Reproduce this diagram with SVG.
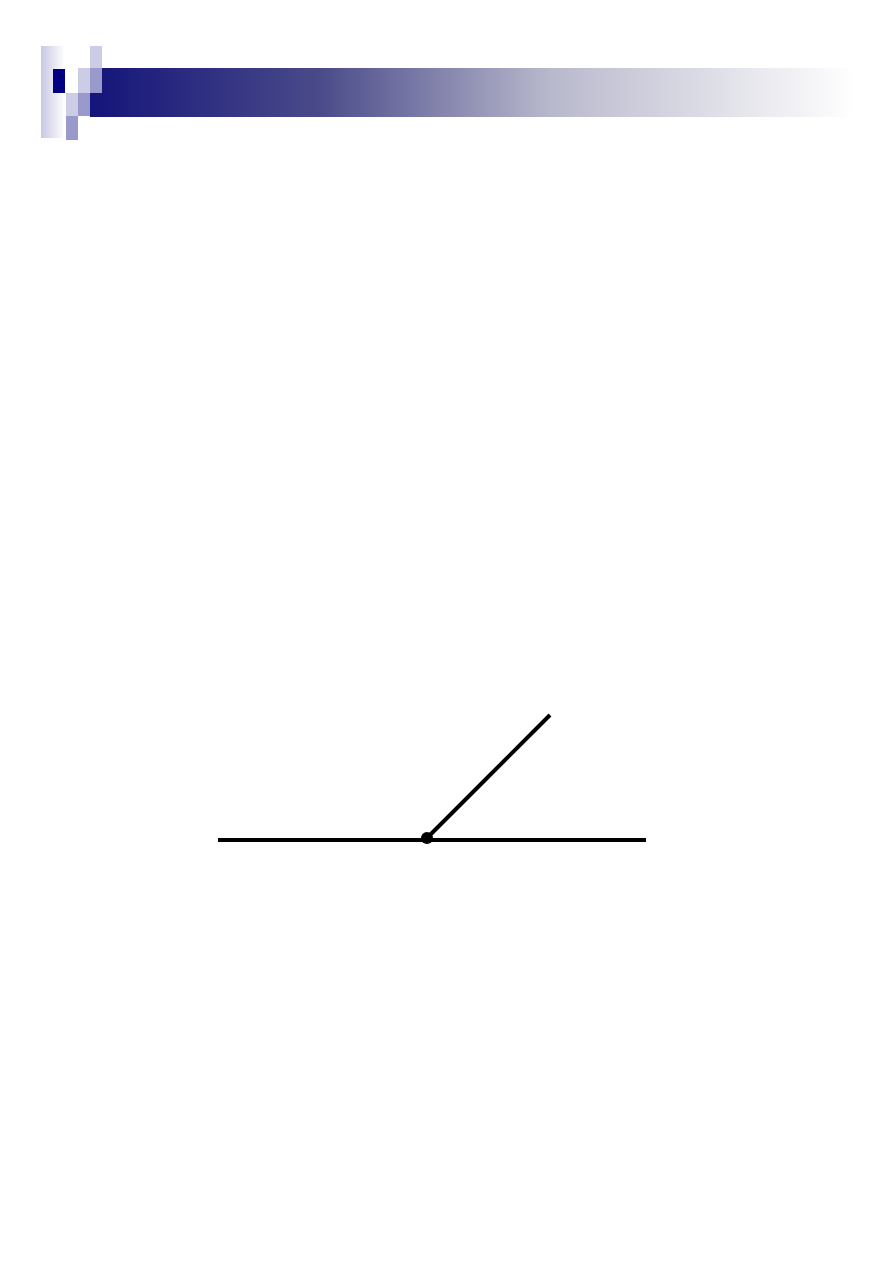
<svg xmlns="http://www.w3.org/2000/svg" width="893" height="1263" viewBox="0 0 893 1263">
<defs>
<linearGradient id="banner" x1="0" y1="0" x2="1" y2="0">
<stop offset="0" stop-color="#14147a"/>
<stop offset="0.3" stop-color="#4a4a8a"/>
<stop offset="0.6" stop-color="#b8b8cc"/>
<stop offset="1" stop-color="#ffffff"/>
</linearGradient>
<linearGradient id="side" x1="0" y1="0" x2="1" y2="0">
<stop offset="0" stop-color="#c8c8e2"/>
<stop offset="1" stop-color="#ffffff"/>
</linearGradient>
<style>
.light{fill:#ccccE6}
.mid{fill:#9999cc}
.ln{stroke:#000;stroke-width:4;fill:none}
</style>
</defs>
<rect width="893" height="1263" fill="#fff"/>
<g id="header">
<rect x="90" y="68" width="765" height="49" fill="url(#banner)"/>
<rect x="41" y="46" width="24" height="92" fill="url(#side)"/>
<rect class="light" x="90" y="46" width="12" height="22"/>
<rect x="53" y="69" width="12" height="24" fill="#000080"/>
<rect class="light" x="78" y="68" width="12" height="25"/>
<rect class="mid" x="90" y="68" width="12" height="25"/>
<rect class="light" x="66" y="93" width="12" height="23"/>
<rect class="mid" x="78" y="93" width="12" height="23"/>
<rect class="mid" x="66" y="116" width="12" height="24"/>
</g>
<g id="figure">
<line class="ln" x1="218" y1="840" x2="646" y2="840"/>
<line class="ln" x1="427" y1="838" x2="550" y2="715"/>
<circle cx="427" cy="838" r="6" fill="#000"/>
</g>
</svg>
